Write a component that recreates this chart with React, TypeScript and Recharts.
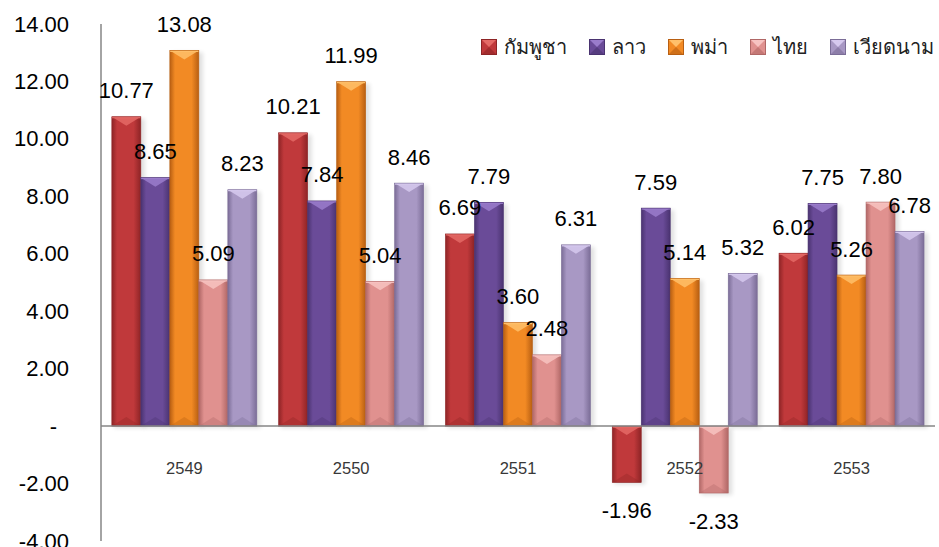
import React from "react";
import { Bar, BarChart, LabelList, ReferenceLine, XAxis, YAxis } from "recharts";

const years = ["2549", "2550", "2551", "2552", "2553"];
const cambodia = [10.77, 10.21, 6.69, -1.96, 6.02];
const laos = [8.65, 7.84, 7.79, 7.59, 7.75];
const myanmar = [13.08, 11.99, 3.6, 5.14, 5.26];
const thailand = [5.09, 5.04, 2.48, -2.33, 7.8];
const vietnam = [8.23, 8.46, 6.31, 5.32, 6.78];
const yTicks = [-4, -2, 0, 2, 4, 6, 8, 10, 12, 14];

const series = [
  { key: "kh", name: "กัมพูชา", values: cambodia, base: "#c0393b", light: "#e46a66", dark: "#8e2426" },
  { key: "la", name: "ลาว", values: laos, base: "#6a4b98", light: "#9a7ccb", dark: "#4a3370" },
  { key: "mm", name: "พม่า", values: myanmar, base: "#f28a24", light: "#ffc06a", dark: "#b85f12" },
  { key: "th", name: "ไทย", values: thailand, base: "#e0918f", light: "#f7c3c1", dark: "#b06766" },
  { key: "vn", name: "เวียดนาม", values: vietnam, base: "#a898c4", light: "#d6c9ee", dark: "#7b6d97" },
];

const data = years.map((year, i) => {
  const row: Record<string, string | number> = { year };
  series.forEach((s) => (row[s.key] = s.values[i]));
  return row;
});

const W = 939;
const H = 547;
const margin = { top: 24, right: 4, bottom: 5, left: 0 };
const plotH = H - margin.top - margin.bottom - 1;
const zeroY = margin.top + (plotH * 14) / 18;
const font = "'Liberation Sans', Arial, 'Noto Sans', sans-serif";

function makeShape(s: (typeof series)[number]) {
  return (props: any) => {
    let { x, y, width: w, height: h } = props;
    if (h < 0) {
      y += h;
      h = -h;
    }
    if (!w || !h) return <g />;
    const b = Math.min(9, h / 2);
    return (
      <g>
        <rect x={x + 2} y={y + 2} width={w + 2} height={h} fill="#000" opacity={0.12} filter="url(#soft)" />
        <rect x={x} y={y} width={w} height={h} fill={`url(#g-${s.key})`} />
        <polygon points={`${x},${y} ${x + w},${y} ${x + w / 2},${y + b}`} fill={s.light} opacity={0.85} />
        <rect x={x} y={y} width={w} height={1.5} fill={s.light} />
        <polygon points={`${x},${y + h} ${x + w},${y + h} ${x + w / 2},${y + h - b}`} fill={s.dark} opacity={0.35} />
        <rect x={x} y={y} width={w} height={h} fill="none" stroke={s.dark} strokeWidth={0.6} />
      </g>
    );
  };
}

function ValueLabel(props: any) {
  const vb = props.viewBox && props.viewBox.width !== undefined ? props.viewBox : props;
  let { x, y, width: w, height: h } = vb;
  const v = Number(props.value);
  if (h < 0) {
    y += h;
    h = -h;
  }
  const ty = v >= 0 ? y - 26 : y + h + 28;
  return (
    <text x={x + w / 2} y={ty} textAnchor="middle" dominantBaseline="central" fontSize={22} fontFamily={font} fill="#000">
      {v.toFixed(2)}
    </text>
  );
}

function YTick(props: any) {
  const { x, y, payload } = props;
  const v = payload.value as number;
  return (
    <text x={v === 0 ? x - 12 : x} y={y} textAnchor="end" dominantBaseline="central" fontSize={22} fontFamily={font} fill="#000">
      {v === 0 ? "-" : v.toFixed(2)}
    </text>
  );
}

function XTick(props: any) {
  const { x, payload } = props;
  return (
    <text x={x} y={zeroY + 48} textAnchor="middle" fontSize={16.5} fontFamily={font} fill="#383838">
      {payload.value}
    </text>
  );
}

function LegendIcon({ s }: { s: (typeof series)[number] }) {
  return (
    <svg width={16} height={16} style={{ marginRight: 7 }}>
      <rect x={0} y={0} width={16} height={16} fill={s.base} />
      <polygon points="0,0 16,0 8,8" fill={s.light} />
      <polygon points="0,16 16,16 8,8" fill={s.dark} opacity={0.6} />
      <rect x={0.5} y={0.5} width={15} height={15} fill="none" stroke={s.dark} />
    </svg>
  );
}

function LegendBox() {
  return (
    <div
      style={{
        position: "absolute",
        top: 31,
        left: 481,
        display: "flex",
        alignItems: "center",
        fontFamily: font,
        fontSize: 20,
        color: "#222",
        whiteSpace: "nowrap",
      }}
    >
      {series.map((s) => (
        <div key={s.key} style={{ display: "flex", alignItems: "center", marginRight: 22 }}>
          <LegendIcon s={s} />
          <span>{s.name}</span>
        </div>
      ))}
    </div>
  );
}

export default function App() {
  return (
    <div style={{ position: "absolute", left: 0, top: 0, width: W, height: H, background: "#fff", overflow: "hidden" }}>
      <BarChart width={W} height={H} data={data} margin={margin} barGap={0} barCategoryGap="6.5%">
        <defs>
          <filter id="soft" x="-20%" y="-20%" width="140%" height="140%">
            <feGaussianBlur stdDeviation="2" />
          </filter>
          {series.map((s) => (
            <linearGradient key={s.key} id={`g-${s.key}`} x1="0" y1="0" x2="1" y2="0">
              <stop offset="0%" stopColor={s.dark} />
              <stop offset="18%" stopColor={s.base} />
              <stop offset="75%" stopColor={s.base} />
              <stop offset="100%" stopColor={s.dark} />
            </linearGradient>
          ))}
        </defs>
        <YAxis
          width={101}
          domain={[-4, 14]}
          ticks={yTicks}
          interval={0}
          tickSize={0}
          tickMargin={32}
          axisLine={{ stroke: "#868686", strokeWidth: 1.5 }}
          tickLine={false}
          tick={<YTick />}
        />
        <ReferenceLine y={0} stroke="#868686" strokeWidth={1.5} />
        {series.map((s) => (
          <Bar key={s.key} dataKey={s.key} name={s.name} fill={s.base} isAnimationActive={false} shape={makeShape(s)}>
            <LabelList dataKey={s.key} content={<ValueLabel />} />
          </Bar>
        ))}
        <XAxis dataKey="year" height={1} axisLine={false} tickLine={false} tick={<XTick />} interval={0} />
      </BarChart>
      <LegendBox />
    </div>
  );
}
